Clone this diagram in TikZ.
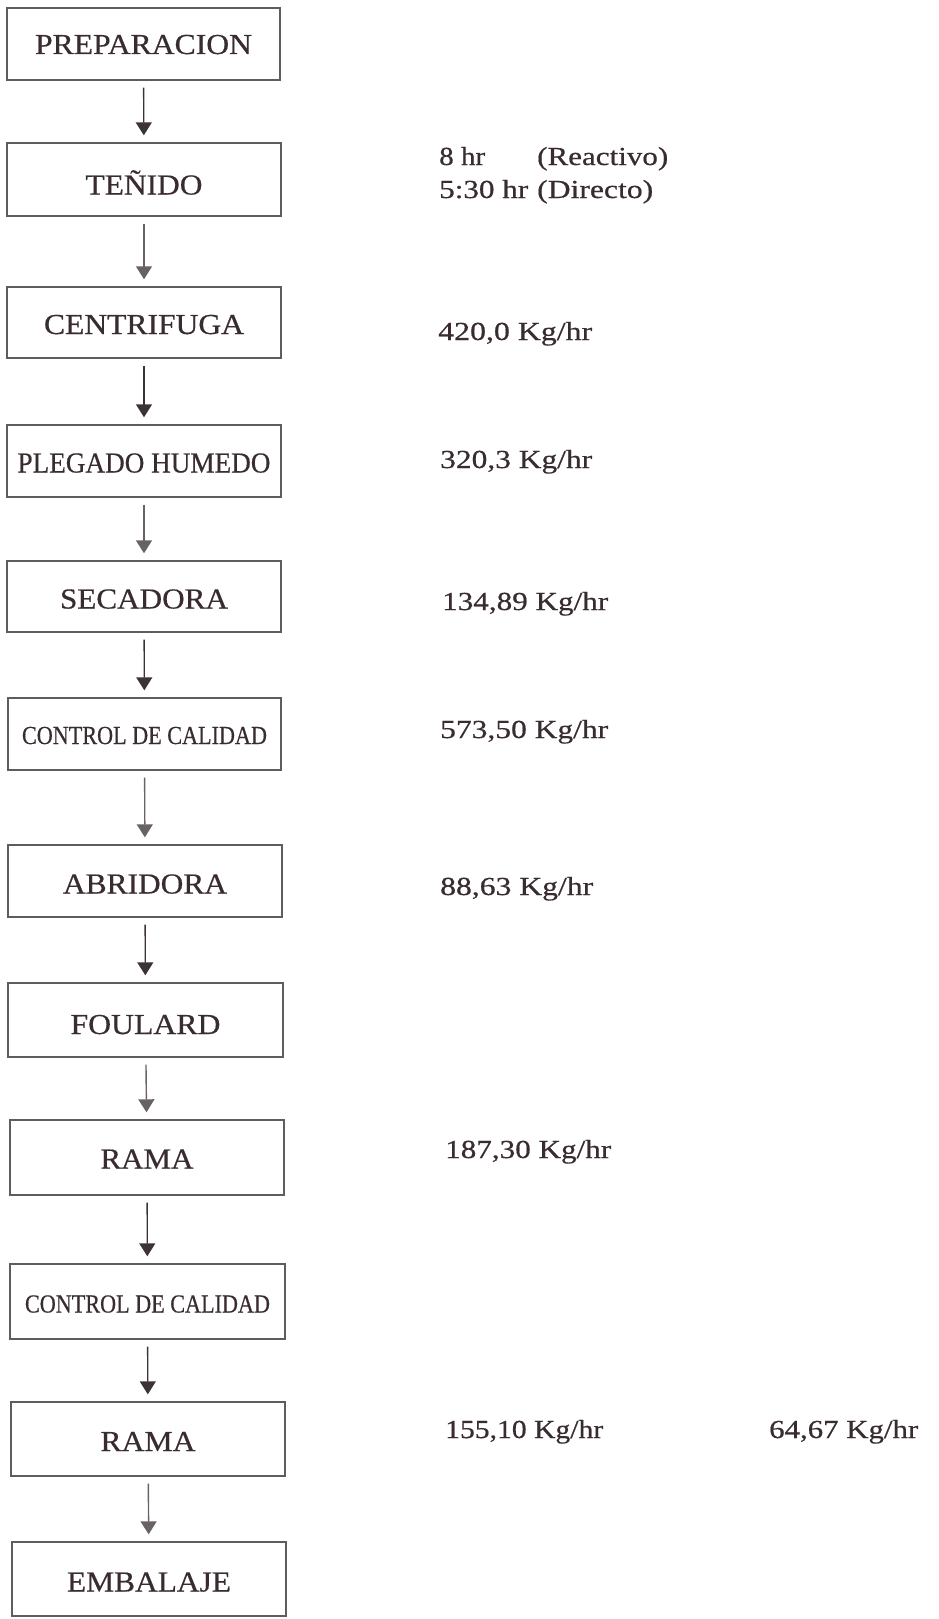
\documentclass[tikz,border=0pt]{standalone}
\usepackage{fontspec}
\usepackage{graphicx}
\setmainfont{Liberation Serif}[FakeBold=0.5]
\usetikzlibrary{arrows.meta}
\definecolor{ink}{RGB}{56,43,49}
\definecolor{frame}{RGB}{95,92,94}
\definecolor{darkarrow}{RGB}{60,50,56}
\definecolor{lightarrow}{RGB}{105,98,101}
% stretch a text horizontally to a given width, keeping its height,
% and lower it slightly inside its box
\newcommand\wfit[3][2.5]{\raisebox{-#1pt}{\resizebox{#2pt}{\height}{#3}}}
\newcommand\rfit[2]{\resizebox{#1pt}{\height}{#2}}
\tikzset{
  stepbox/.style={draw=frame, line width=1.4pt, rectangle, inner sep=0pt,
    text=ink, font=\fontsize{29}{29}\selectfont, text height=19pt, text depth=0pt},
  smallcaps/.style={font=\fontsize{26}{26}\selectfont, text height=17pt},
  rate/.style={anchor=base west, inner sep=0pt, text=ink, font=\fontsize{26}{26}\selectfont},
  flow/.style={draw=darkarrow, line width=1.4pt, -{Triangle[width=16pt,length=13pt]},
    shorten <=7pt, shorten >=7pt},
  flowlight/.style={flow, draw=lightarrow}
}
\begin{document}
\begin{tikzpicture}[x=1pt,y=-1pt]
\useasboundingbox (0,0) rectangle (939,1619);
% process steps
\node[stepbox, minimum width=273pt, minimum height=72pt] (s1) at (143.5,44) {\wfit[0.5]{217}{PREPARACION}};
\node[stepbox, minimum width=274pt, minimum height=73pt] (s2) at (144,179.5) {\wfit[5.5]{117}{TEÑIDO}};
\node[stepbox, minimum width=274pt, minimum height=71pt] (s3) at (144,322.5) {\wfit[2]{200}{CENTRIFUGA}};
\node[stepbox, minimum width=274pt, minimum height=72pt] (s4) at (144,461) {\wfit[2]{253}{PLEGADO HUMEDO}};
\node[stepbox, minimum width=274pt, minimum height=71pt] (s5) at (144,596.5) {\wfit{168}{SECADORA}};
\node[stepbox, smallcaps, minimum width=273pt, minimum height=72pt] (s6) at (144.5,734) {\wfit[1.5]{245}{CONTROL DE CALIDAD}};
\node[stepbox, minimum width=274pt, minimum height=72pt] (s7) at (145,881) {\wfit[3]{164}{ABRIDORA}};
\node[stepbox, minimum width=275pt, minimum height=74pt] (s8) at (145.5,1020) {\wfit[4.5]{150}{FOULARD}};
\node[stepbox, minimum width=274pt, minimum height=75pt] (s9) at (147,1157.5) {\wfit[1.5]{93}{RAMA}};
\node[stepbox, smallcaps, minimum width=275pt, minimum height=75pt] (s10) at (147.5,1301.5) {\wfit{245}{CONTROL DE CALIDAD}};
\node[stepbox, minimum width=274pt, minimum height=74pt] (s11) at (148,1439) {\wfit{95}{RAMA}};
\node[stepbox, minimum width=274pt, minimum height=74pt] (s12) at (149,1579) {\wfit[3]{164}{EMBALAJE}};
% connectors
\draw[flow] (s1) -- (s2);
\draw[flowlight] (s2) -- (s3);
\draw[flow] (s3) -- (s4);
\draw[flowlight] (s4) -- (s5);
\draw[flow] (s5) -- (s6);
\draw[flowlight] (s6) -- (s7);
\draw[flow] (s7) -- (s8);
\draw[flowlight] (s8) -- (s9);
\draw[flow] (s9) -- (s10);
\draw[flow] (s10) -- (s11);
\draw[flowlight] (s11) -- (s12);
% rates and times
\node[rate] (t1) at (439,165) {\makebox[98pt][l]{\rfit{46}{8 hr}}\rfit{131}{(Reactivo)}};
\node[rate] (t2) at (439,198) {\makebox[98pt][l]{\rfit{89}{5:30 hr}}\rfit{116}{(Directo)}};
\node[rate] (r3) at (438,340) {\rfit{154}{420,0 Kg/hr}};
\node[rate] (r4) at (440,468) {\rfit{152}{320,3 Kg/hr}};
\node[rate] (r5) at (442,610) {\rfit{166}{134,89 Kg/hr}};
\node[rate] (r6) at (440,738) {\rfit{168}{573,50 Kg/hr}};
\node[rate] (r7) at (440,895) {\rfit{153}{88,63 Kg/hr}};
\node[rate] (r9) at (445,1158) {\rfit{166}{187,30 Kg/hr}};
\node[rate] (r11) at (445,1438) {\rfit{158}{155,10 Kg/hr}};
\node[rate] (r11b) at (769,1438) {\rfit{149}{64,67 Kg/hr}};
\end{tikzpicture}
\end{document}
